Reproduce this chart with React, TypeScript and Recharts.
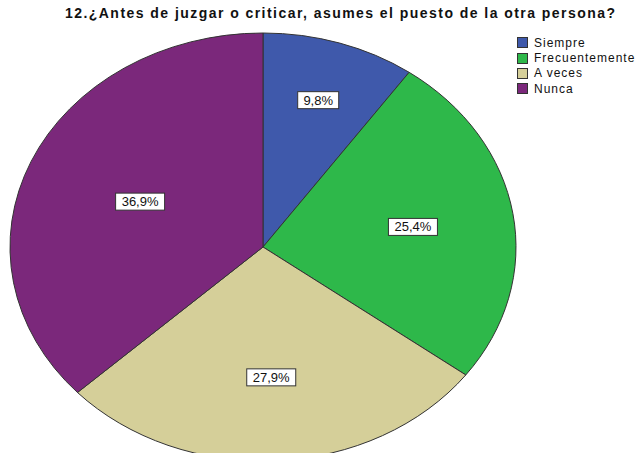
import React from 'react';
import { PieChart, Pie, Cell, Legend } from 'recharts';

const categories = ['Siempre', 'Frecuentemente', 'A veces', 'Nunca'];
const percentages = [9.8, 25.4, 27.9, 36.9];
const colors = ['#3F59AB', '#2EB84A', '#D5CF99', '#7B287B'];

const chartTitle = '12.¿Antes de juzgar o criticar, asumes el puesto de la otra persona?';

const data = categories.map((name, i) => ({ name, value: percentages[i] }));

// the original pie is an ellipse: sectors are stretched horizontally
const CX = 263;
const CY = 247;
const RADIUS = 214;
const STRETCH = 253 / 214;
const labelRadius = [0.72, 0.6, 0.61, 0.53];

const RADIAN = Math.PI / 180;

const renderLabel = (props: any) => {
  const { midAngle, index, value } = props;
  const r = RADIUS * labelRadius[index];
  const x = CX + r * Math.cos(-midAngle * RADIAN) * STRETCH;
  const y = CY + r * Math.sin(-midAngle * RADIAN);
  const text = value.toFixed(1).replace('.', ',') + '%';
  const w = text.length * 8 + 9;
  return (
    <g key={`lbl-${index}`}>
      <rect x={x - w / 2} y={y - 8.5} width={w} height={17} fill="#fff" stroke="#333" strokeWidth={1} />
      <text x={x} y={y + 4.5} textAnchor="middle" fontSize={13} fill="#111" fontFamily="Liberation Sans, Arial, sans-serif">
        {text}
      </text>
    </g>
  );
};

const renderLegend = () => (
  <div style={{ fontFamily: 'Liberation Sans, Arial, sans-serif', fontSize: 12, color: '#111', letterSpacing: 1 }}>
    {categories.map((c, i) => (
      <div key={c} style={{ display: 'flex', alignItems: 'center', height: 15.4, whiteSpace: 'nowrap' }}>
        <span
          style={{
            display: 'inline-block',
            width: 9,
            height: 9,
            background: colors[i],
            border: '1px solid #333',
            marginRight: 6,
          }}
        />
        <span>{c}</span>
      </div>
    ))}
  </div>
);

const App: React.FC = () => {
  return (
    <div style={{ position: 'absolute', left: 0, top: 0, width: 637, height: 453, background: '#fff', overflow: 'hidden' }}>
      <style>{`
        .ellipse-pie .recharts-sector {
          transform-origin: ${CX}px ${CY}px;
          transform: scaleX(${STRETCH});
          vector-effect: non-scaling-stroke;
        }
      `}</style>
      <div
        style={{
          position: 'absolute',
          left: 65,
          top: 5,
          fontFamily: 'Liberation Sans, Arial, sans-serif',
          fontWeight: 'bold',
          fontSize: 14,
          letterSpacing: 1.45,
          color: '#111',
          whiteSpace: 'nowrap',
        }}
      >
        {chartTitle}
      </div>
      <div className="ellipse-pie">
        <PieChart width={637} height={453} margin={{ top: 0, right: 0, bottom: 0, left: 0 }}>
          <Pie
            data={data}
            dataKey="value"
            nameKey="name"
            cx={CX}
            cy={CY}
            outerRadius={RADIUS}
            startAngle={90}
            endAngle={-270}
            stroke="#333"
            strokeWidth={1}
            label={renderLabel}
            labelLine={false}
            isAnimationActive={false}
          >
            {data.map((d, i) => (
              <Cell key={d.name} fill={colors[i]} />
            ))}
          </Pie>
          <Legend
            layout="vertical"
            verticalAlign="top"
            align="right"
            content={renderLegend}
            wrapperStyle={{ left: 517, top: 35, width: 125 }}
          />
        </PieChart>
      </div>
    </div>
  );
};

export default App;
